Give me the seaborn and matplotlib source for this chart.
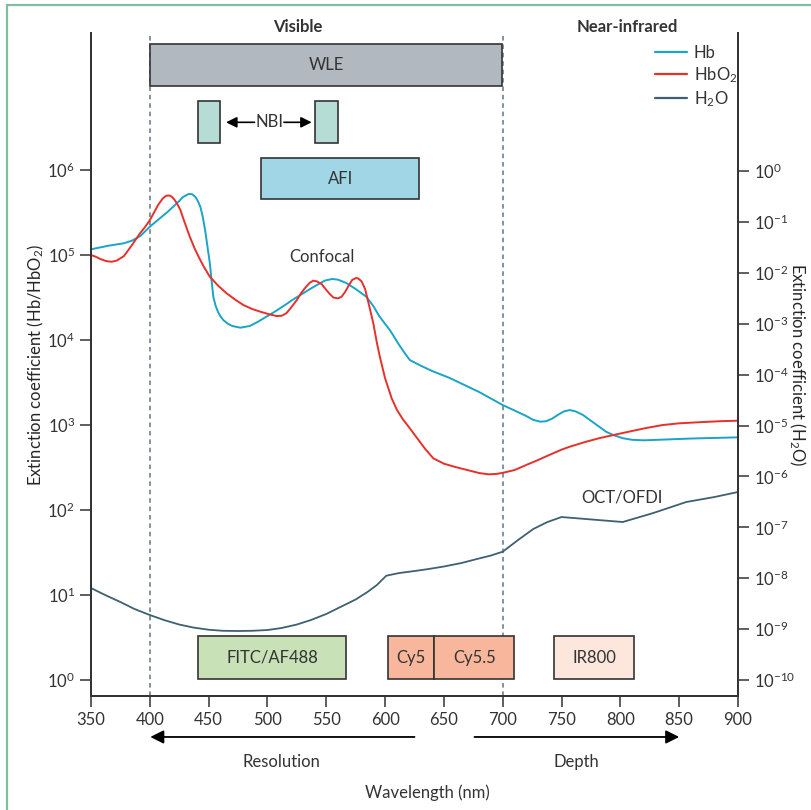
import numpy as np
import pandas as pd
import matplotlib
matplotlib.use("Agg")
import matplotlib.pyplot as plt
import matplotlib.transforms as mtransforms
from matplotlib.patches import Rectangle
from matplotlib.lines import Line2D
import seaborn as sns

# Datos (exponentes log10)
hb_nm = [350, 365, 378, 385, 392, 400, 415, 425, 428, 433, 436, 439, 441, 443, 445, 447,
         449, 451, 452.5, 454, 456, 458, 460, 462.5, 466, 470, 477, 485, 492, 499, 507,
         515, 521, 528, 535, 542, 549, 555, 560, 567, 575, 584, 590, 595, 600, 604, 608,
         612, 617, 621, 630, 640, 655, 680, 700, 720, 726, 732, 737, 742, 747, 752, 757,
         762, 768, 775, 782, 788, 794, 802, 810, 820, 828, 860, 900]
hb_log = [5.067, 5.11, 5.138, 5.17, 5.224, 5.333, 5.506, 5.635, 5.68, 5.718, 5.715, 5.68,
          5.63, 5.565, 5.45, 5.294, 5.10, 4.906, 4.70, 4.506, 4.40, 4.329, 4.28, 4.235,
          4.195, 4.165, 4.145, 4.165, 4.215, 4.274, 4.34, 4.412, 4.47, 4.529, 4.59, 4.647,
          4.70, 4.718, 4.71, 4.671, 4.60, 4.509, 4.40, 4.282, 4.19, 4.118, 4.03, 3.941,
          3.84, 3.765, 3.70, 3.635, 3.553, 3.388, 3.235, 3.106, 3.06, 3.039, 3.045, 3.075,
          3.12, 3.16, 3.176, 3.16, 3.12, 3.05, 2.98, 2.92, 2.882, 2.845, 2.826, 2.82,
          2.824, 2.841, 2.855]

hbo2_nm = [350, 354, 358, 363, 367.6, 372, 378, 385, 391.6, 396, 400, 404, 407, 411, 414,
           417, 419, 421, 423, 426, 428, 431, 434, 438, 442, 446, 451, 458, 465, 472, 479.5,
           487, 494, 501, 507.8, 512, 516, 520, 525, 529, 532, 536, 539, 542, 546, 550,
           553, 556, 560, 563, 566, 569, 572, 575, 577, 580, 583, 586, 590, 593, 595.6,
           600, 605.6, 610, 615, 620, 627, 634, 641, 650, 660, 670, 680, 687.7, 695, 700.5,
           710, 720, 730, 740, 750, 757, 770, 782, 794, 810, 822, 836, 850, 870, 885, 900]
hbo2_log = [5.0, 4.98, 4.953, 4.928, 4.921, 4.935, 4.988, 5.12, 5.255, 5.33, 5.41, 5.51,
            5.588, 5.665, 5.698, 5.70, 5.682, 5.65, 5.608, 5.53, 5.447, 5.33, 5.215, 5.08,
            4.965, 4.86, 4.745, 4.64, 4.553, 4.48, 4.412, 4.365, 4.333, 4.305, 4.282,
            4.285, 4.314, 4.38, 4.471, 4.56, 4.612, 4.675, 4.698, 4.69, 4.659, 4.59, 4.541,
            4.50, 4.49, 4.51, 4.565, 4.64, 4.706, 4.728, 4.726, 4.69, 4.60, 4.43, 4.196,
            3.97, 3.80, 3.55, 3.314, 3.18, 3.07, 2.98, 2.85, 2.72, 2.608, 2.545, 2.505,
            2.47, 2.435, 2.42, 2.425, 2.439, 2.47, 2.53, 2.588, 2.65, 2.71, 2.745, 2.80,
            2.845, 2.882, 2.93, 2.965, 3.0, 3.02, 3.035, 3.045, 3.051]

h2o_nm = [350, 362, 375, 387, 400, 412, 425, 437, 450, 462, 475, 487, 500, 512, 525, 537,
          550, 562, 575, 585, 593, 601, 612, 625, 637, 650, 665, 678, 690, 700, 713, 726,
          738, 750, 802, 828, 856, 880, 900]
h2o_log = [-8.193, -8.330, -8.468, -8.605, -8.723, -8.821, -8.910, -8.969, -9.012, -9.033,
           -9.037, -9.033, -9.018, -8.978, -8.910, -8.821, -8.703, -8.566, -8.418, -8.271,
           -8.134, -7.951, -7.898, -7.859, -7.819, -7.770, -7.701, -7.623, -7.554, -7.479,
           -7.250, -7.033, -6.896, -6.798, -6.896, -6.719, -6.503, -6.405, -6.306]

# Bandas de tecnicas (nm)
top_boxes = [("WLE", 400, 699.5, "#b1b8bf"), ("AFI", 494.5, 629, "#a1d6e7")]
nbi_boxes = [(441, 460), (540.4, 559.7)]
probe_boxes = [("FITC/AF488", 441, 567, "#c9e1b6"), ("Cy5", 602.5, 642, "#f8b79c"),
               ("Cy5.5", 642, 709.6, "#f8b79c"), ("IR800", 744, 811.6, "#fde7dd")]
x_ticks = list(range(350, 901, 50))
left_exp = list(range(0, 7))
right_exp = list(range(-10, 1))

c_hb = "#1ba3c8"
c_hbo2 = "#e8302a"
c_h2o = "#3f6070"
c_dash = "#5f7786"
c_ink = "#333333"

sns.set_style("ticks")
plt.rcParams["font.family"] = ["Lato", "DejaVu Sans"]
plt.rcParams["mathtext.default"] = "regular"
plt.rcParams["axes.edgecolor"] = c_ink
plt.rcParams["xtick.color"] = c_ink
plt.rcParams["ytick.color"] = c_ink
plt.rcParams["text.color"] = c_ink

fig = plt.figure(figsize=(8.12, 8.10), dpi=100)
ax = fig.add_axes([91 / 812, 1 - 696 / 810, 647 / 812, 663 / 810])
ax2 = ax.twinx()

hb = pd.DataFrame({"nm": hb_nm, "v": 10 ** np.array(hb_log)})
hbo2 = pd.DataFrame({"nm": hbo2_nm, "v": 10 ** np.array(hbo2_log)})
h2o = pd.DataFrame({"nm": h2o_nm, "v": 10 ** np.array(h2o_log)})

sns.lineplot(data=hb, x="nm", y="v", ax=ax, color=c_hb, lw=1.4)
sns.lineplot(data=hbo2, x="nm", y="v", ax=ax, color=c_hbo2, lw=1.4)
sns.lineplot(data=h2o, x="nm", y="v", ax=ax2, color=c_h2o, lw=1.3)

ax.set_yscale("log")
ax2.set_yscale("log")
ax.set_xlim(350, 900)
ax.set_ylim(10 ** -0.188, 10 ** 7.612)
ax2.set_ylim(10 ** -10.314, 10 ** 2.711)

ax.set_xticks(x_ticks)
ax.set_yticks([10.0 ** e for e in left_exp])
ax.set_yticklabels([f"$10^{{{e}}}$" for e in left_exp])
ax2.set_yticks([10.0 ** e for e in right_exp])
ax2.set_yticklabels([f"$10^{{{e}}}$" for e in right_exp])
ax.minorticks_off()
ax2.minorticks_off()
for a in (ax, ax2):
    a.tick_params(labelsize=12, length=8, width=1.1)
    a.set_xlabel("")
    a.set_ylabel("")
    a.spines["top"].set_visible(False)
    for s in a.spines.values():
        s.set_linewidth(1.3)

ax.set_ylabel("Extinction coefficient (Hb/HbO$_2$)", fontsize=12)
ax.yaxis.set_label_coords(-0.07, 0.5)
ax2.set_ylabel("Extinction coefficient (H$_2$O)", fontsize=12, rotation=270, va="bottom")
ax2.yaxis.set_label_coords(1.075, 0.5)

trans = mtransforms.blended_transform_factory(ax.transData, ax.transAxes)

# lineas visible / infrarrojo
for xv in (400, 700):
    ax.plot([xv, xv], [0, 0.997], transform=trans, color=c_dash, lw=1.1,
            ls=(0, (3, 2.5)), zorder=1)

def box(x0, x1, y0, h, fc, label=None):
    ax.add_patch(Rectangle((x0, y0), x1 - x0, h, transform=trans, fc=fc,
                           ec=c_ink, lw=1.2, zorder=3))
    if label:
        ax.text((x0 + x1) / 2, y0 + h / 2, label, transform=trans, ha="center",
                va="center", fontsize=12, zorder=4)

box(top_boxes[0][1], top_boxes[0][2], 0.920, 0.063, top_boxes[0][3], top_boxes[0][0])
box(top_boxes[1][1], top_boxes[1][2], 0.7496, 0.0614, top_boxes[1][3], top_boxes[1][0])
for x0, x1 in nbi_boxes:
    box(x0, x1, 0.8345, 0.0629, "#b6dcd6")
for name, x0, x1, fc in probe_boxes:
    box(x0, x1, 0.0256, 0.0649, fc, name)

ax.text(501.6, 0.8653, "NBI", transform=trans, ha="center", va="center", fontsize=12)
ax.annotate("", xy=(464.8, 0.8653), xytext=(489, 0.8653), xycoords=trans, textcoords=trans,
            arrowprops=dict(arrowstyle="-|>", color="black", lw=1.2, mutation_scale=16,
                            shrinkA=0, shrinkB=0))
ax.annotate("", xy=(537.6, 0.8653), xytext=(514, 0.8653), xycoords=trans, textcoords=trans,
            arrowprops=dict(arrowstyle="-|>", color="black", lw=1.2, mutation_scale=16,
                            shrinkA=0, shrinkB=0))

ax.text(526, 1.009, "Visible", transform=trans, ha="center", va="center",
        fontsize=12, fontweight="bold")
ax.text(806, 1.009, "Near-infrared", transform=trans, ha="center", va="center",
        fontsize=12, fontweight="bold")
ax.text(546, 0.662, "Confocal", transform=trans, ha="center", va="center", fontsize=12)
ax.text(801, 0.300, "OCT/OFDI", transform=trans, ha="center", va="center", fontsize=12)

# flechas resolucion / profundidad
ax.annotate("", xy=(400.4, -0.0618), xytext=(625, -0.0618), xycoords=trans, textcoords=trans,
            arrowprops=dict(arrowstyle="-|>", color="black", lw=1.3, mutation_scale=20,
                            shrinkA=0, shrinkB=0),
            annotation_clip=False)
ax.annotate("", xy=(850, -0.0618), xytext=(676, -0.0618), xycoords=trans, textcoords=trans,
            arrowprops=dict(arrowstyle="-|>", color="black", lw=1.3, mutation_scale=20,
                            shrinkA=0, shrinkB=0),
            annotation_clip=False)
ax.text(512, -0.0995, "Resolution", transform=trans, ha="center", va="center", fontsize=12)
ax.text(763, -0.0995, "Depth", transform=trans, ha="center", va="center", fontsize=12)
ax.text(636, -0.146, "Wavelength (nm)", transform=trans, ha="center", va="center", fontsize=12)

handles = [Line2D([], [], color=c_hb, lw=1.6), Line2D([], [], color=c_hbo2, lw=1.6),
           Line2D([], [], color=c_h2o, lw=1.6)]
ax.legend(handles, ["Hb", "HbO$_2$", "H$_2$O"], loc="upper left",
          bbox_to_anchor=(0.862, 0.992), frameon=False, fontsize=12, handlelength=1.9,
          handletextpad=0.4, labelspacing=0.25, borderaxespad=0)

# marco verde de la figura
fig.patches.append(Rectangle((7 / 812, -0.05), 1.2, 1.05 - 5 / 810, transform=fig.transFigure,
                             fill=False, ec="#7dbf9f", lw=1.6))

fig.savefig("out.png", dpi=100)
